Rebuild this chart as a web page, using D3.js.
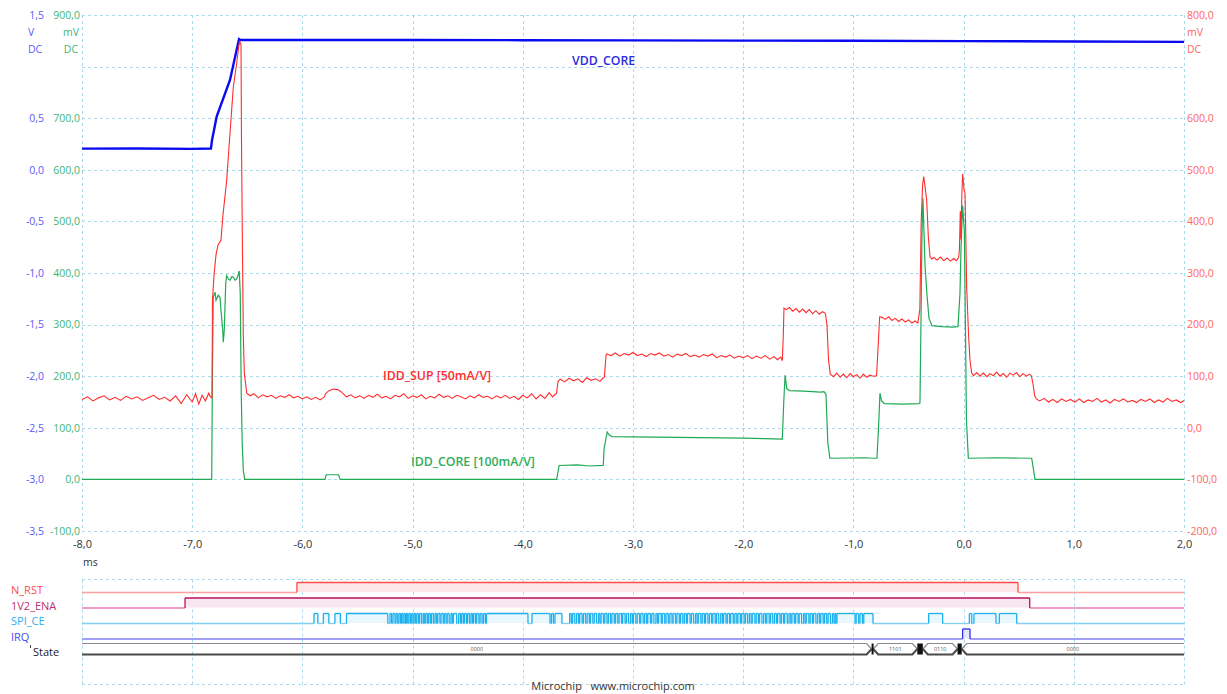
<!DOCTYPE html>
<html><head><meta charset="utf-8">
<script src="https://cdn.jsdelivr.net/npm/d3@7"></script>
<style>
html,body{margin:0;padding:0;background:#fff;}
svg{display:block;font-family:"Open Sans","Noto Sans",sans-serif;}
</style></head><body>
<svg id="chart" width="1227" height="694"></svg>
<script>
// ---- axis ticks ----
const timeTicks = [-8, -7, -6, -5, -4, -3, -2, -1, 0, 1, 2];            // ms
const voltTicks = [1.5, 0.5, 0, -0.5, -1, -1.5, -2, -2.5, -3, -3.5];   // V (VDD_CORE)
const coreTicks = [900, 700, 600, 500, 400, 300, 200, 100, 0, -100];   // mV (IDD_CORE)
const supTicks  = [800, 600, 500, 400, 300, 200, 100, 0, -100, -200];  // mV (IDD_SUP)
const gridVolts = [1.5, 1, 0.5, 0, -0.5, -1, -1.5, -2, -2.5, -3, -3.5];

// ---- analog traces: [time ms, value] ----
const vddCore = [
  [-8, 0.205], [-7.5, 0.207], [-7.0, 0.203], [-6.83, 0.206], [-6.82, 0.289], [-6.778, 0.515],
  [-6.657, 0.87], [-6.575, 1.267], [-6.56, 1.258], [-5, 1.258], [-4, 1.256], [-3, 1.254],
  [-2, 1.252], [-1, 1.25], [0, 1.247], [1, 1.243], [2, 1.240]
];

const iddSup = [
  [-8.00,55],[-7.95,60],[-7.90,52],[-7.85,58],[-7.80,62],[-7.75,54],[-7.70,59],[-7.65,53],[-7.60,61],
  [-7.55,56],[-7.50,60],[-7.45,53],[-7.40,58],[-7.35,63],[-7.30,55],[-7.25,59],[-7.20,52],[-7.15,62],
  [-7.10,47],[-7.05,64],[-7.00,50],[-6.97,66],[-6.94,46],[-6.91,63],[-6.88,52],[-6.85,67],[-6.835,60],
  [-6.820,58],[-6.816,248],[-6.802,296],[-6.784,335],[-6.766,354],[-6.739,364],[-6.721,412],[-6.687,480],
  [-6.657,571],[-6.627,660],[-6.596,707],[-6.578,738],[-6.569,750],[-6.557,742],[-6.553,564],[-6.544,345],
  [-6.536,176],[-6.527,106],[-6.505,67],[-6.475,62],
  [-6.44,66],[-6.40,58],[-6.36,64],[-6.32,60],[-6.28,63],[-6.24,57],[-6.20,62],[-6.16,59],[-6.12,64],
  [-6.08,58],[-6.04,61],[-6.00,56],[-5.96,60],[-5.92,55],[-5.88,59],[-5.84,54],[-5.80,60],
  [-5.79,66],[-5.76,72],[-5.72,75],[-5.68,74],[-5.65,70],
  [-5.60,60],[-5.56,64],[-5.52,58],[-5.48,62],[-5.44,57],[-5.40,63],[-5.36,59],[-5.32,65],[-5.28,58],
  [-5.24,61],[-5.20,56],[-5.16,63],[-5.12,60],[-5.08,66],[-5.04,57],[-5.00,62],[-4.96,59],[-4.92,64],
  [-4.88,56],[-4.84,61],[-4.80,58],[-4.76,65],[-4.72,59],[-4.68,62],[-4.64,57],[-4.60,63],[-4.56,60],
  [-4.52,56],[-4.48,62],[-4.44,58],[-4.40,64],[-4.36,59],[-4.32,61],[-4.28,56],[-4.24,62],[-4.20,58],
  [-4.16,63],[-4.12,57],[-4.08,61],[-4.04,55],[-4.00,63],[-3.96,58],[-3.92,66],[-3.88,56],[-3.84,64],
  [-3.80,57],[-3.76,68],[-3.73,60],[-3.71,64],
  [-3.695,66],[-3.680,90],[-3.66,94],[-3.62,89],[-3.58,96],[-3.54,91],[-3.50,95],[-3.46,88],[-3.42,97],
  [-3.38,92],[-3.34,95],[-3.30,90],[-3.275,96],
  [-3.26,98],[-3.245,140],[-3.24,143],[-3.20,140],[-3.16,145],[-3.12,139],[-3.08,144],[-3.04,141],
  [-3.00,146],[-2.96,140],[-2.92,143],[-2.88,138],[-2.84,144],[-2.80,141],[-2.76,145],[-2.72,139],
  [-2.68,142],[-2.64,137],[-2.60,143],[-2.56,140],[-2.52,144],[-2.48,138],[-2.44,141],[-2.40,137],
  [-2.36,142],[-2.32,139],[-2.28,143],[-2.24,136],[-2.20,140],[-2.16,137],[-2.12,141],[-2.08,135],
  [-2.04,139],[-2.00,136],[-1.96,140],[-1.92,134],[-1.88,139],[-1.84,135],[-1.80,140],[-1.76,133],
  [-1.72,138],[-1.69,132],[-1.66,137],[-1.645,130],
  [-1.636,180],[-1.630,232],[-1.61,229],[-1.58,233],[-1.55,226],[-1.52,231],[-1.49,224],[-1.46,230],
  [-1.43,223],[-1.40,229],[-1.37,221],[-1.34,227],[-1.31,220],[-1.28,225],[-1.255,222],
  [-1.240,200],[-1.225,130],[-1.21,104],[-1.18,99],[-1.15,106],[-1.12,98],[-1.09,104],[-1.06,97],
  [-1.03,105],[-1.00,99],[-0.97,103],[-0.94,96],[-0.91,104],[-0.88,98],[-0.85,102],[-0.82,100],
  [-0.79,101],[-0.775,160],[-0.762,215],[-0.74,214],[-0.71,210],[-0.68,215],[-0.65,208],[-0.62,212],
  [-0.59,206],[-0.56,211],[-0.53,205],[-0.50,209],[-0.47,203],[-0.44,207],[-0.415,203],
  [-0.397,230],[-0.385,400],[-0.372,470],[-0.362,487],[-0.350,468],[-0.335,441],[-0.320,370],
  [-0.305,332],[-0.290,327],
  [-0.27,330],[-0.24,325],[-0.21,331],[-0.18,324],[-0.15,329],[-0.12,323],[-0.09,328],[-0.065,324],[-0.045,330],
  [-0.038,345],[-0.030,420],[-0.024,365],[-0.016,450],[-0.009,492],[-0.003,480],[0.005,460],[0.013,455],
  [0.028,273],[0.045,180],[0.058,131],[0.073,106],
  [0.09,101],[0.12,107],[0.15,100],[0.18,106],[0.21,99],[0.24,105],[0.27,101],[0.30,108],[0.33,100],
  [0.36,105],[0.39,98],[0.42,106],[0.45,102],[0.48,107],[0.51,99],[0.54,105],[0.57,100],[0.60,104],[0.615,101],
  [0.630,85],[0.645,62],[0.66,56],
  [0.69,52],[0.73,57],[0.77,50],[0.81,55],[0.85,49],[0.89,56],[0.93,51],[0.97,55],[1.01,50],[1.05,56],
  [1.09,49],[1.13,54],[1.17,51],[1.21,57],[1.25,50],[1.29,54],[1.33,48],[1.37,55],[1.41,51],[1.45,56],
  [1.49,50],[1.53,53],[1.57,49],[1.61,55],[1.65,51],[1.69,56],[1.73,49],[1.77,54],[1.81,50],[1.85,57],
  [1.89,51],[1.93,54],[1.97,49],[2.00,53]
];

const iddCore = [
  [-8,0],[-6.823,0],[-6.816,220],[-6.809,353],[-6.793,363],[-6.784,347],[-6.763,357],[-6.748,353],
  [-6.739,328],[-6.724,292],[-6.718,266],[-6.709,289],[-6.696,379],[-6.687,395],[-6.672,388],[-6.657,386],
  [-6.640,393],[-6.627,392],[-6.610,386],[-6.596,389],[-6.585,395],[-6.573,404],[-6.564,360],[-6.555,167],
  [-6.546,70],[-6.536,17],[-6.524,0],
  [-5.795,0],[-5.785,9],[-5.672,9],[-5.657,0],
  [-3.693,0],[-3.670,27],[-3.50,28],[-3.40,26],[-3.270,27],[-3.262,60],[-3.234,92],[-3.215,86],[-3.19,83],
  [-2.8,82],[-2.4,81],[-2.0,80],[-1.80,79],[-1.645,78],
  [-1.632,150],[-1.620,202],[-1.605,176],[-1.58,172],[-1.45,171],[-1.30,169],[-1.267,170],
  [-1.249,165],[-1.232,70],[-1.213,41],[-0.9,42],[-0.813,41],
  [-0.786,41],[-0.768,120],[-0.759,167],[-0.745,152],[-0.72,147],[-0.55,146],[-0.41,147],[-0.396,148],
  [-0.387,300],[-0.378,470],[-0.369,545],[-0.350,415],[-0.332,357],[-0.314,312],[-0.287,298],[-0.2,296],
  [-0.1,295],[-0.051,296],
  [-0.033,360],[-0.024,444],[-0.009,531],[0.007,480],[0.017,289],[0.026,114],[0.043,41],[0.3,42],
  [0.618,41],[0.648,0],[2.0,0]
];

// ---- digital lanes: [time ms, level] edges ----
const nRst   = [[-8, 0], [-6.05, 1], [0.494, 0]];
const ena1v2 = [[-8, 0], [-7.065, 1], [0.60, 0]];
const irq    = [[-8, 0], [-0.009, 1], [0.058, 0]];
const spiWindows = [[-5.895, -0.822], [-0.317, -0.190], [0.052, 0.482]];
const spiDips = [
  [-5.860,-5.810],[-5.760,-5.705],[-5.655,-5.600],
  [-5.225,-5.205],[-5.190,-5.178],[-5.160,-5.150],[-5.135,-5.124],[-5.110,-5.100],[-5.088,-5.078],
  [-5.066,-5.056],[-5.044,-5.034],[-5.020,-5.008],[-4.996,-4.986],[-4.972,-4.962],[-4.946,-4.936],
  [-4.918,-4.903],[-4.890,-4.880],[-4.864,-4.854],[-4.838,-4.828],[-4.810,-4.796],[-4.782,-4.772],
  [-4.752,-4.742],[-4.722,-4.712],[-4.696,-4.686],[-4.668,-4.652],[-4.640,-4.630],[-4.600,-4.582],
  [-4.566,-4.556],[-4.540,-4.530],[-4.512,-4.502],[-4.484,-4.470],[-4.456,-4.446],[-4.428,-4.418],
  [-4.398,-4.388],[-4.370,-4.358],[-4.340,-4.330],
  [-3.953,-3.917],
  [-3.753,-3.740],[-3.722,-3.708],[-3.645,-3.575],
  [-3.560,-3.548],[-3.528,-3.512],[-3.494,-3.484],[-3.462,-3.450],[-3.430,-3.416],[-3.396,-3.386],
  [-3.364,-3.352],[-3.330,-3.312],[-3.300,-3.290],[-3.268,-3.256],[-3.236,-3.224],[-3.204,-3.192],
  [-3.170,-3.158],[-3.138,-3.126],[-3.104,-3.094],[-3.072,-3.060],[-3.040,-3.022],[-3.006,-2.996],
  [-2.974,-2.962],[-2.940,-2.930],[-2.908,-2.894],[-2.876,-2.866],[-2.842,-2.830],[-2.810,-2.792],
  [-2.778,-2.768],[-2.744,-2.734],[-2.712,-2.700],[-2.680,-2.666],[-2.646,-2.636],[-2.614,-2.602],
  [-2.580,-2.568],[-2.548,-2.534],[-2.516,-2.506],[-2.482,-2.470],[-2.450,-2.432],[-2.418,-2.408],
  [-2.384,-2.372],[-2.352,-2.342],[-2.320,-2.306],[-2.286,-2.276],[-2.254,-2.242],[-2.222,-2.204],
  [-2.188,-2.178],[-2.156,-2.144],[-2.124,-2.114],[-2.090,-2.076],[-2.058,-2.048],[-2.026,-2.014],
  [-1.992,-1.980],[-1.960,-1.944],[-1.928,-1.918],[-1.894,-1.882],[-1.862,-1.852],[-1.830,-1.814],
  [-1.796,-1.786],[-1.764,-1.752],[-1.732,-1.716],[-1.698,-1.688],[-1.666,-1.654],[-1.634,-1.624],
  [-1.600,-1.584],[-1.568,-1.558],[-1.536,-1.524],[-1.502,-1.492],[-1.470,-1.452],[-1.438,-1.428],
  [-1.404,-1.392],[-1.372,-1.362],[-1.340,-1.324],[-1.306,-1.296],[-1.274,-1.262],[-1.242,-1.230],
  [-1.208,-1.190],[-1.176,-1.166],[-1.158,-1.149],
  [-0.985,-0.975],[-0.952,-0.940],[-0.918,-0.906],
  [0.074,0.094],[0.294,0.324]
];
// state bus: value segments and busy (multi-transition) spans
const stateSegments = [
  {t0: -8, t1: -0.835, label: "0000"},
  {t0: -0.820, t1: -0.420, label: "1101"},
  {t0: -0.370, t1: -0.055, label: "0110"},
  {t0: -0.017, t1: 2, label: "0000"}
];
const stateBusy = [[-0.835, -0.820], [-0.420, -0.370], [-0.055, -0.017]];

const laneNames = ["N_RST", "1V2_ENA", "SPI_CE", "IRQ", "State"];

// ---- scales ----
const svg = d3.select("#chart");
const x  = d3.scaleLinear().domain([-8, 2]).range([82, 1184]);
const yV = d3.scaleLinear().domain([-3.5, 1.5]).range([531, 15]);
const yC = d3.scaleLinear().domain([-100, 900]).range([531, 15]);
const yS = d3.scaleLinear().domain([-200, 800]).range([531, 15]);
const lane = d3.scalePoint().domain(laneNames).range([592, 654]);
const laneH = 10;
const fmt = v => v.toFixed(1).replace(".", ",");
const gridCol = "#a9d9ea";

// ---- grid ----
const grid = svg.append("g").attr("stroke", gridCol).attr("stroke-width", 1).attr("stroke-dasharray", "3,3");
grid.selectAll("line.h").data(gridVolts).join("line")
  .attr("x1", x(-8)).attr("x2", x(2))
  .attr("y1", d => Math.round(yV(d)) + 0.5).attr("y2", d => Math.round(yV(d)) + 0.5);
grid.selectAll("line.v").data(timeTicks).join("line")
  .attr("x1", d => Math.round(x(d)) + 0.5).attr("x2", d => Math.round(x(d)) + 0.5)
  .attr("y1", yV(1.5)).attr("y2", yV(-3.5));
// digital area frame + time grid
const digTop = 579.5, digBot = 684.5;
grid.append("line").attr("x1", x(-8)).attr("x2", x(2)).attr("y1", digTop).attr("y2", digTop);
grid.append("line").attr("x1", x(-8)).attr("x2", x(2)).attr("y1", digBot).attr("y2", digBot);
grid.selectAll("line.dv").data(timeTicks).join("line")
  .attr("x1", d => Math.round(x(d)) + 0.5).attr("x2", d => Math.round(x(d)) + 0.5)
  .attr("y1", digTop).attr("y2", digBot);

// ---- axes ----
function styleAxis(g, color, size) {
  g.select(".domain").remove();
  g.selectAll(".tick line").remove();
  g.selectAll("text").attr("fill", color).attr("font-size", size)
    .attr("font-family", "'Open Sans','Noto Sans',sans-serif");
}
svg.append("g").attr("transform", "translate(44,0)")
  .call(d3.axisLeft(yV).tickValues(voltTicks).tickFormat(fmt).tickSize(0).tickPadding(0))
  .call(g => styleAxis(g, "#5b5bf5", 10.5));
svg.append("g").attr("transform", "translate(80,0)")
  .call(d3.axisLeft(yC).tickValues(coreTicks).tickFormat(fmt).tickSize(0).tickPadding(0))
  .call(g => styleAxis(g, "#3fb477", 10.5));
svg.append("g").attr("transform", "translate(1187,0)")
  .call(d3.axisRight(yS).tickValues(supTicks).tickFormat(fmt).tickSize(0).tickPadding(0))
  .call(g => styleAxis(g, "#ff6464", 10.5));
svg.append("g").attr("transform", "translate(0,540)")
  .call(d3.axisBottom(x).tickValues(timeTicks).tickFormat(fmt).tickSize(0).tickPadding(0))
  .call(g => styleAxis(g, "#333", 11));

// unit labels
const unit = svg.append("g").attr("font-size", 10.5);
unit.append("text").attr("x", 28).attr("y", 36).attr("fill", "#5b5bf5").text("V");
unit.append("text").attr("x", 28).attr("y", 53).attr("fill", "#5b5bf5").text("DC");
unit.append("text").attr("x", 79).attr("y", 36).attr("text-anchor", "end").attr("fill", "#3fb477").text("mV");
unit.append("text").attr("x", 78).attr("y", 53).attr("text-anchor", "end").attr("fill", "#3fb477").text("DC");
unit.append("text").attr("x", 1187).attr("y", 36).attr("fill", "#ff6464").text("mV");
unit.append("text").attr("x", 1187).attr("y", 53).attr("fill", "#ff6464").text("DC");
svg.append("text").attr("x", 83).attr("y", 566).attr("font-size", 10.5).attr("fill", "#333").text("ms");

// ---- analog traces ----
const lineOf = ys => d3.line().x(d => x(d[0])).y(d => ys(d[1]));
svg.append("path").datum(iddCore).attr("d", lineOf(yC))
  .attr("fill", "none").attr("stroke", "#1faa55").attr("stroke-width", 1.2);
svg.append("path").datum(vddCore).attr("d", lineOf(yV))
  .attr("fill", "none").attr("stroke", "#0a0af0").attr("stroke-width", 2.4);
svg.append("path").datum(iddSup).attr("d", lineOf(yS))
  .attr("fill", "none").attr("stroke", "#ff2d2d").attr("stroke-width", 1.1);

// trace labels
const lbl = svg.append("g").attr("font-size", 12.3).attr("font-weight", 600);
lbl.append("text").attr("x", 572).attr("y", 65).attr("fill", "#2b2bdc").text("VDD_CORE");
lbl.append("text").attr("x", 383).attr("y", 380).attr("fill", "#ff2d2d").text("IDD_SUP [50mA/V]");
lbl.append("text").attr("x", 411).attr("y", 466).attr("fill", "#2fae5c").text("IDD_CORE [100mA/V]");

// ---- digital lanes ----
function drawLane(edges, name, colHigh, colLow, fillCol) {
  const yLow = lane(name), yHigh = yLow - laneH;
  const pts = edges.concat([[2, edges[edges.length - 1][1]]]);
  const g = svg.append("g");
  g.append("path").datum(pts)
    .attr("d", d3.area().curve(d3.curveStepAfter).x(d => x(d[0])).y0(yLow).y1(d => d[1] ? yHigh : yLow))
    .attr("fill", fillCol);
  const segs = d3.pairs(pts);
  g.selectAll("line.s").data(segs).join("line")
    .attr("x1", d => x(d[0][0])).attr("x2", d => x(d[1][0]))
    .attr("y1", d => d[0][1] ? yHigh + 0.5 : yLow + 0.5).attr("y2", d => d[0][1] ? yHigh + 0.5 : yLow + 0.5)
    .attr("stroke", d => d[0][1] ? colHigh : colLow).attr("stroke-width", 1.3);
  g.selectAll("line.e").data(edges.slice(1)).join("line")
    .attr("x1", d => x(d[0])).attr("x2", d => x(d[0]))
    .attr("y1", yHigh + 0.5).attr("y2", yLow + 0.5)
    .attr("stroke", colHigh).attr("stroke-width", 1.3);
}
// SPI_CE edges from active windows and low pulses
const spiEdges = [[-8, 0]];
spiWindows.forEach(([a, b]) => {
  spiEdges.push([a, 1]);
  spiDips.filter(d => d[0] > a && d[1] < b).forEach(d => { spiEdges.push([d[0], 0]); spiEdges.push([d[1], 1]); });
  spiEdges.push([b, 0]);
});
drawLane(nRst, "N_RST", "#ff4b4b", "#ffa0a0", "#fde6e8");
drawLane(ena1v2, "1V2_ENA", "#b8135e", "#e77cb4", "#f7e6f0");
drawLane(spiEdges, "SPI_CE", "#1ab0ee", "#7fd0f2", "#e8f6fd");
drawLane(irq, "IRQ", "#3030ee", "#7f7ff8", "#e6e6fc");

// state bus
const busMid = 649, busTop = 643.5, busBot = 654.5, taper = 5;
const bus = svg.append("g");
stateSegments.forEach(s => {
  const x0 = x(s.t0), x1 = x(s.t1);
  const l0 = s.t0 > -8 ? taper : 0, r0 = s.t1 < 2 ? taper : 0;
  const top = [[x0, l0 ? busMid : busTop], [x0 + l0, busTop], [x1 - r0, busTop], [x1, r0 ? busMid : busTop]];
  const bot = [[x0, l0 ? busMid : busBot], [x0 + l0, busBot], [x1 - r0, busBot], [x1, r0 ? busMid : busBot]];
  bus.append("path").attr("d", d3.line()(top)).attr("fill", "none").attr("stroke", "#8a8a8a").attr("stroke-width", 1.2);
  bus.append("path").attr("d", d3.line()(bot)).attr("fill", "none").attr("stroke", "#4a4a4a").attr("stroke-width", 2);
  bus.append("text").attr("x", (x0 + x1) / 2).attr("y", busMid + 2).attr("text-anchor", "middle")
    .attr("font-size", 5.5).attr("fill", "#555").text(s.label);
});
bus.selectAll("rect").data(stateBusy).join("rect")
  .attr("x", d => x(d[0])).attr("width", d => Math.max(2, x(d[1]) - x(d[0])))
  .attr("y", busTop).attr("height", busBot - busTop).attr("fill", "#111");

// lane labels
const laneCols = {"N_RST": "#ff4b4b", "1V2_ENA": "#c0306e", "SPI_CE": "#30aef0", "IRQ": "#4a4af2", "State": "#222"};
svg.append("g").selectAll("text").data(laneNames).join("text")
  .attr("x", d => d === "State" ? 33 : 11).attr("y", d => lane(d) + 2)
  .attr("font-size", 11).attr("fill", d => laneCols[d]).text(d => d);
svg.append("line").attr("x1", 30.5).attr("x2", 30.5).attr("y1", 645).attr("y2", 648).attr("stroke", "#444");

// footer
svg.append("text").attr("x", 613).attr("y", 690).attr("text-anchor", "middle").attr("font-size", 11)
  .attr("fill", "#333").style("white-space", "pre").text("Microchip   www.microchip.com");
</script>
</body></html>
